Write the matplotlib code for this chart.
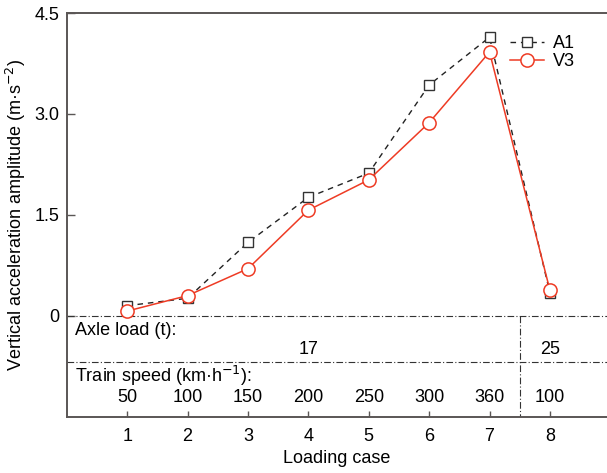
import matplotlib

matplotlib.use("Agg")
import matplotlib.pyplot as plt

plt.rcParams["font.family"] = ["Liberation Sans", "DejaVu Sans"]

cases = [1, 2, 3, 4, 5, 6, 7, 8]
a1 = [0.15, 0.26, 1.09, 1.76, 2.12, 3.43, 4.14, 0.34]
v3 = [0.07, 0.30, 0.70, 1.57, 2.02, 2.87, 3.92, 0.38]
speeds = ["50", "100", "150", "200", "250", "300", "360", "100"]
axle_loads = ["17", "25"]
axle_pos = [4, 8]
yticks = [0, 1.5, 3.0, 4.5]
ytick_labels = ["0", "1.5", "3.0", "4.5"]

spine_col = "#5a5655"
red = "#ee3b24"
fs = 13


def main() -> None:
    fig = plt.figure(figsize=(6.07, 4.73), dpi=100)
    ax = fig.add_axes([0.110, 0.119, 0.890, 0.8535])

    ax.plot(cases, a1, ls=(0, (4, 3.5)), color="#222222", lw=1.0,
            marker="s", ms=7.5, mfc="white", mec="#333333", mew=1.0,
            label="A1", zorder=3)
    ax.plot(cases, v3, ls="-", color=red, lw=1.1,
            marker="o", ms=9.5, mfc="white", mec=red, mew=1.1,
            label="V3", zorder=4)

    ax.set_xlim(0, 8.945)
    ax.set_ylim(-1.5, 4.5)
    ax.set_xticks(cases)
    ax.set_yticks(yticks)
    ax.set_yticklabels(ytick_labels)

    # table-like area below zero
    dash = (0, (6, 2, 1, 2))
    ax.axhline(0, color="#333333", lw=0.8, ls=dash, zorder=2)
    ax.axhline(-0.69, color="#333333", lw=0.8, ls=dash, zorder=2)
    ax.plot([7.5, 7.5], [0, -1.5], color="#333333", lw=0.8, ls=dash)

    ax.text(0.13, -0.22, "Axle load (t):", fontsize=fs, va="center", ha="left")
    for pos, load in zip(axle_pos, axle_loads):
        ax.text(pos, -0.50, load, fontsize=fs, va="center", ha="center")
    ax.text(0.13, -0.90, "Train speed (km\u00b7h$^{\u22121}$):", fontsize=fs,
            va="center", ha="left")
    for c, s in zip(cases, speeds):
        ax.text(c, -1.22, s, fontsize=fs, va="center", ha="center")

    for side in ["left", "bottom", "top"]:
        ax.spines[side].set_color(spine_col)
        ax.spines[side].set_linewidth(1.4)
    ax.spines["right"].set_visible(False)

    ax.tick_params(axis="x", direction="in", length=4, width=1.0,
                   color=spine_col, labelsize=fs, pad=8)
    ax.tick_params(axis="y", direction="in", length=6, width=1.0,
                   color=spine_col, labelsize=fs, pad=5)

    ax.set_xlabel("Loading case", fontsize=fs, labelpad=4)
    ax.set_ylabel("Vertical acceleration amplitude (m\u00b7s$^{\u22122}$)",
                  fontsize=fs, labelpad=5)

    ax.legend(loc="upper left", bbox_to_anchor=(0.82, 0.945), frameon=False,
              fontsize=fs, handlelength=1.9, handletextpad=0.5,
              labelspacing=0.05, borderpad=0, borderaxespad=0)

    plt.savefig("out.png", dpi=100)


if __name__ == "__main__":
    main()
